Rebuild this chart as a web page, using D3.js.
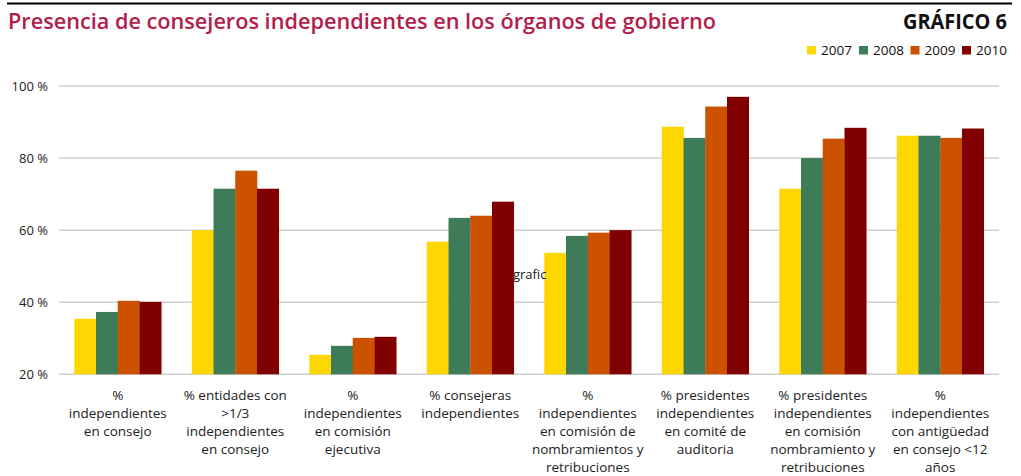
<!DOCTYPE html>
<html>
<head>
<meta charset="utf-8">
<script src="https://cdn.jsdelivr.net/npm/d3@7"></script>
<style>
  body { margin: 0; background: #fff; }
  svg { display: block; font-family: "Open Sans", sans-serif; }
</style>
</head>
<body>
<svg id="chart"></svg>
<script>
const years = ['2007', '2008', '2009', '2010']
const colors = ['#FFD700', '#3E7B58', '#CC5200', '#800000']

const categories = [
  ['%', 'independientes', 'en consejo'],
  ['% entidades con', '>1/3', 'independientes', 'en consejo'],
  ['%', 'independientes', 'en comisión', 'ejecutiva'],
  ['% consejeras', 'independientes'],
  ['%', 'independientes', 'en comisión de', 'nombramientos y', 'retribuciones'],
  ['% presidentes', 'independientes', 'en comité de', 'auditoria'],
  ['% presidentes', 'independientes', 'en comisión', 'nombramiento y', 'retribuciones'],
  ['%', 'independientes', 'con antigüedad', 'en consejo <12', 'años']
]

const v2007 = [35.4, 60.0, 25.4, 56.8, 53.7, 88.7, 71.5, 86.2]
const v2008 = [37.3, 71.5, 27.9, 63.4, 58.4, 85.6, 80.0, 86.2]
const v2009 = [40.4, 76.5, 30.1, 64.0, 59.3, 94.3, 85.4, 85.6]
const v2010 = [40.1, 71.5, 30.4, 67.9, 60.0, 97.0, 88.4, 88.2]
const series = [v2007, v2008, v2009, v2010]

const yTicks = [20, 40, 60, 80, 100]

let width = 1021
let height = 476

let svg = d3.select('#chart')
  .attr('width', width)
  .attr('height', height)

// top rule
svg.append('line')
  .attr('x1', 7).attr('x2', 1012)
  .attr('y1', 3.5).attr('y2', 3.5)
  .attr('stroke', '#000').attr('stroke-width', 2)

svg.append('text')
  .attr('x', 8).attr('y', 29)
  .attr('fill', '#B2204A')
  .attr('font-size', 22)
  .attr('font-weight', 600)
  .attr('textLength', 708)
  .attr('lengthAdjust', 'spacingAndGlyphs')
  .text('Presencia de consejeros independientes en los órganos de gobierno')

svg.append('text')
  .attr('x', 1007).attr('y', 29)
  .attr('text-anchor', 'end')
  .attr('fill', '#111')
  .attr('font-size', 22)
  .attr('font-weight', 700)
  .attr('textLength', 104)
  .attr('lengthAdjust', 'spacingAndGlyphs')
  .text('GRÁFICO 6')

// legend
let legendX = [807, 859, 910.5, 962]
let legend = svg.append('g').selectAll('g')
  .data(years)
  .enter().append('g')
  .attr('transform', (d, i) => `translate(${legendX[i]},46)`)
legend.append('rect')
  .attr('width', 9).attr('height', 8.5)
  .attr('fill', (d, i) => colors[i])
legend.append('text')
  .attr('x', 14).attr('y', 8.7)
  .attr('font-size', 12.5)
  .attr('fill', '#111')
  .attr('textLength', 31)
  .attr('lengthAdjust', 'spacingAndGlyphs')
  .text(d => d)

let x0 = d3.scaleBand()
  .domain(d3.range(categories.length))
  .range([59, 999])
  .paddingInner(0.26)
  .paddingOuter(0.13)

let x1 = d3.scaleBand()
  .domain(d3.range(years.length))
  .range([0, x0.bandwidth()])

let y = d3.scaleLinear()
  .domain([20, 100])
  .range([374.3, 86])

// gridlines
svg.append('g')
  .selectAll('line')
  .data(yTicks)
  .enter().append('line')
  .attr('x1', 59).attr('x2', 999)
  .attr('y1', d => y(d)).attr('y2', d => y(d))
  .attr('stroke', '#cfcfcf')
  .attr('stroke-width', 1.5)

let yAxis = svg.append('g')
  .attr('transform', 'translate(48,0)')
  .call(d3.axisLeft(y).tickValues(yTicks).tickSize(0).tickPadding(0).tickFormat(d => d + ' %'))
yAxis.select('.domain').remove()
yAxis.selectAll('text')
  .attr('font-size', 13)
  .attr('font-family', '"Open Sans", sans-serif')
  .attr('fill', '#222')

// bars
let groups = svg.append('g')
  .selectAll('g')
  .data(categories.map((c, i) => i))
  .enter().append('g')
  .attr('transform', i => `translate(${x0(i)},0)`)

groups.selectAll('rect')
  .data(i => series.map((s, k) => ({ k: k, v: s[i] })))
  .enter().append('rect')
  .attr('x', d => x1(d.k))
  .attr('width', x1.bandwidth() + 0.3)
  .attr('y', d => y(d.v))
  .attr('height', d => y(20) - y(d.v))
  .attr('fill', d => colors[d.k])

// category labels
let labels = svg.append('g')
  .selectAll('text')
  .data(categories)
  .enter().append('text')
  .attr('x', (d, i) => x0(i) + x0.bandwidth() / 2)
  .attr('y', 399.5)
  .attr('text-anchor', 'middle')
  .attr('font-size', 13.5)
  .attr('fill', '#222')

labels.selectAll('tspan')
  .data(d => d)
  .enter().append('tspan')
  .attr('x', function () { return d3.select(this.parentNode).attr('x') })
  .attr('dy', (d, i) => i === 0 ? 0 : 18.2)
  .text(d => d)

// stray label left in the source
svg.append('text')
  .attr('x', 513).attr('y', 279)
  .attr('font-size', 13)
  .attr('fill', '#222')
  .text('grafic')
</script>
</body>
</html>
